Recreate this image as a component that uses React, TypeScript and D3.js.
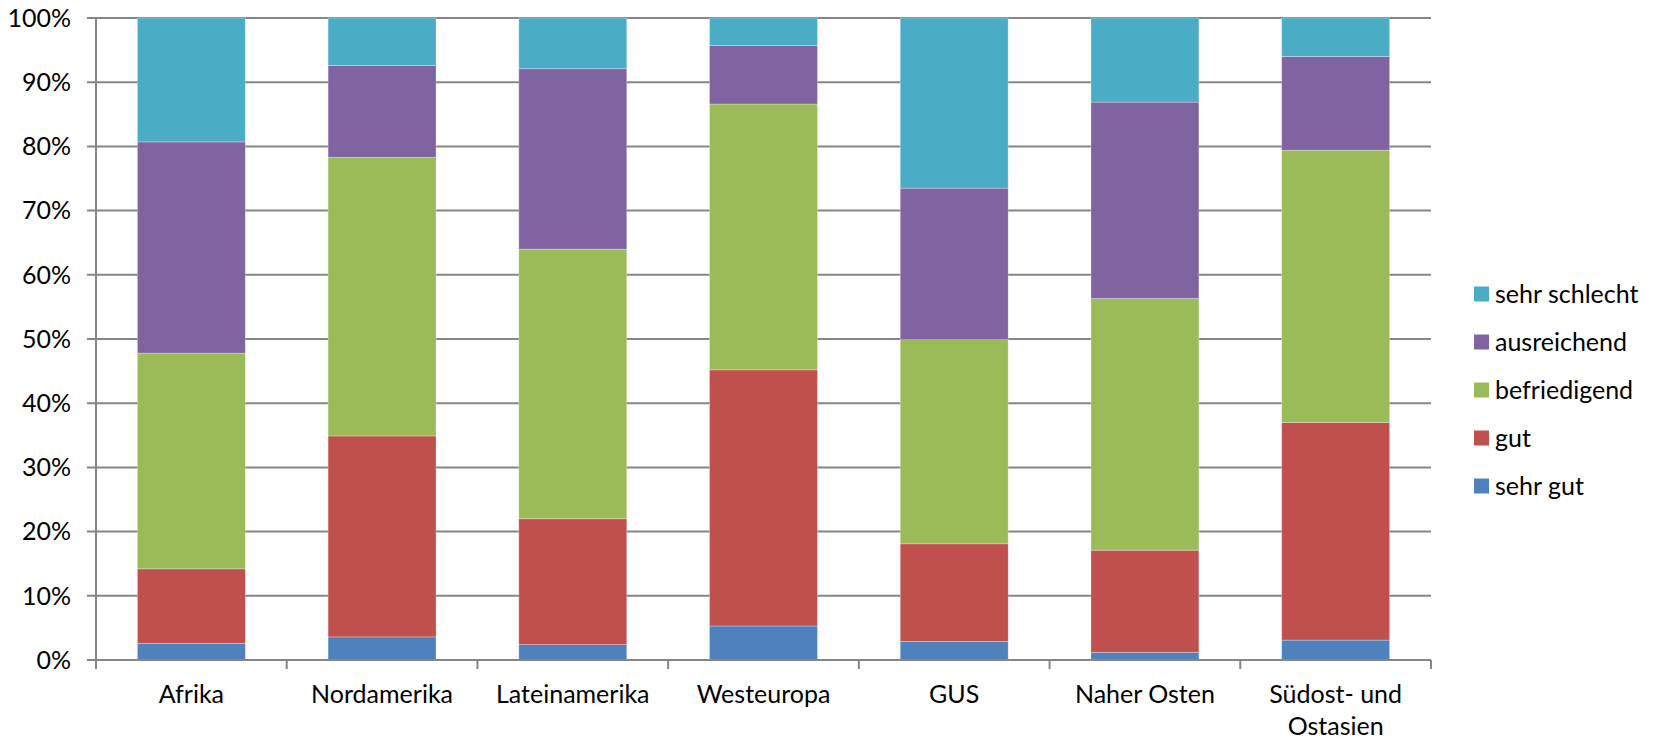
import {useEffect, useRef} from 'react'
import * as d3 from 'd3'

const categories = ['Afrika', 'Nordamerika', 'Lateinamerika', 'Westeuropa', 'GUS', 'Naher Osten', 'Südost- und Ostasien']
const seriesNames = ['sehr gut', 'gut', 'befriedigend', 'ausreichend', 'sehr schlecht']
const sehrGut = [2.6, 3.6, 2.4, 5.3, 2.9, 1.2, 3.1]
const gut = [11.6, 31.3, 19.6, 39.9, 15.2, 15.9, 33.9]
const befriedigend = [33.6, 43.4, 42.0, 41.4, 31.8, 39.2, 42.4]
const ausreichend = [32.9, 14.3, 28.1, 9.1, 23.6, 30.6, 14.6]
const sehrSchlecht = [19.3, 7.4, 7.9, 4.3, 26.5, 13.1, 6.0]
const colors = ['#4F81BD', '#C0504D', '#9BBB59', '#8064A2', '#4BACC6']
const yTicks = [0, 10, 20, 30, 40, 50, 60, 70, 80, 90, 100]

const W = 1653
const H = 741
const FONT = 'Lato, "Open Sans", sans-serif'
const FS = 25

const App = () => {
  const ref = useRef<SVGSVGElement>(null)

  useEffect(() => {
    document.body.style.margin = '0'
    if (!ref.current) return
    const svg = d3.select(ref.current)
    svg.selectAll('*').remove()

    const left = 96, right = 1431, top = 18, bottom = 660

    const rows = categories.map((c, i) => ({
      cat: c,
      'sehr gut': sehrGut[i],
      'gut': gut[i],
      'befriedigend': befriedigend[i],
      'ausreichend': ausreichend[i],
      'sehr schlecht': sehrSchlecht[i],
    }))
    // normalise each bar to 100%
    const stacked = d3.stack<any>().keys(seriesNames).offset(d3.stackOffsetExpand)(rows)

    const x = d3.scaleBand().domain(categories).range([left, right]).paddingInner(0.434).paddingOuter(0.217)
    const y = d3.scaleLinear().domain([0, 100]).range([bottom, top])
    const color = d3.scaleOrdinal<string, string>().domain(seriesNames).range(colors)

    //gridlines
    svg.append('g')
      .selectAll('line')
      .data(yTicks)
      .join('line')
        .attr('x1', left - 9)
        .attr('x2', right)
        .attr('y1', d => y(d))
        .attr('y2', d => y(d))
        .attr('stroke', '#868686')
        .attr('stroke-width', 2)

    //y labels
    svg.append('g')
      .selectAll('text')
      .data(yTicks)
      .join('text')
        .attr('x', left - 25)
        .attr('y', d => y(d))
        .attr('dy', '0.35em')
        .attr('text-anchor', 'end')
        .attr('font-family', FONT)
        .attr('font-size', FS)
        .attr('fill', '#000')
        .text(d => `${d}%`)

    //bars
    svg.append('g')
      .selectAll('g')
      .data(stacked)
      .join('g')
        .attr('fill', d => color(d.key))
      .selectAll('rect')
      .data(d => d)
      .join('rect')
        .attr('x', d => x(d.data.cat)!)
        .attr('width', x.bandwidth())
        .attr('y', d => y(d[1] * 100))
        .attr('height', d => y(d[0] * 100) - y(d[1] * 100))
        .attr('stroke', 'rgba(255,255,255,0.35)')
        .attr('stroke-width', 0.8)

    //axes lines
    svg.append('line')
      .attr('x1', left).attr('x2', left)
      .attr('y1', top).attr('y2', bottom)
      .attr('stroke', '#868686').attr('stroke-width', 2)
    svg.append('line')
      .attr('x1', left - 9).attr('x2', right)
      .attr('y1', bottom).attr('y2', bottom)
      .attr('stroke', '#868686').attr('stroke-width', 2)

    const step = x.step()
    svg.append('g')
      .selectAll('line')
      .data(d3.range(categories.length + 1))
      .join('line')
        .attr('x1', i => left + i * step)
        .attr('x2', i => left + i * step)
        .attr('y1', bottom)
        .attr('y2', bottom + 9)
        .attr('stroke', '#868686')
        .attr('stroke-width', 2)

    //category labels
    const catLabels = svg.append('g')
      .selectAll('text')
      .data(categories)
      .join('text')
        .attr('text-anchor', 'middle')
        .attr('font-family', FONT)
        .attr('font-size', FS)
        .attr('fill', '#000')
    catLabels.each(function (d) {
      const cx = x(d)! + x.bandwidth() / 2
      const lines = d === 'Südost- und Ostasien' ? ['Südost- und', 'Ostasien'] : [d]
      d3.select(this)
        .selectAll('tspan')
        .data(lines)
        .join('tspan')
          .attr('x', cx)
          .attr('y', (_, i) => 703 + i * 32)
          .text(t => t)
    })

    //legend
    const legendItems = [...seriesNames].reverse()
    const lg = svg.append('g')
      .selectAll('g')
      .data(legendItems)
      .join('g')
        .attr('transform', (_, i) => `translate(1474, ${294 + i * 48})`)
    lg.append('rect')
      .attr('x', 0).attr('y', -7.5)
      .attr('width', 15).attr('height', 15)
      .attr('fill', d => color(d))
    lg.append('text')
      .attr('x', 21)
      .attr('dy', '0.35em')
      .attr('font-family', FONT)
      .attr('font-size', FS)
      .attr('fill', '#000')
      .text(d => d)
  }, [])

  return <svg ref={ref} width={W} height={H} style={{display: 'block', background: '#fff'}} />
}

export default App
